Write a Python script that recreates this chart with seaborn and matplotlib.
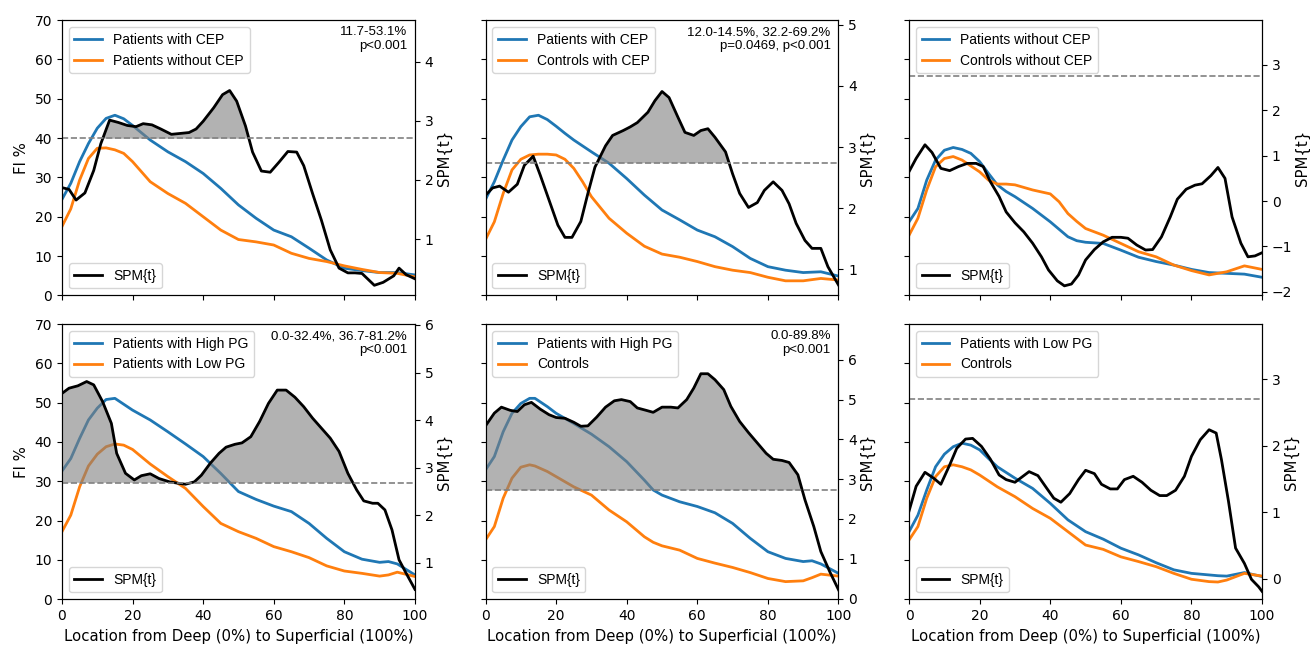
import numpy as np
import pandas as pd
import seaborn as sns
import matplotlib.pyplot as plt
from matplotlib.ticker import MultipleLocator

# ---- dados ----
# painel 1: pacientes com / sem CEP
p1_x = [0, 2.5, 5, 7.5, 10, 12.5, 15, 17.5, 20, 25, 30, 35, 40, 45, 50, 55, 60, 65, 70, 75, 80, 85, 90, 95, 100]
p1_a = [24.4, 28.5, 34, 38.6, 42.5, 45, 45.8, 44.9, 43.2, 39.5, 36.5, 34, 31, 27.2, 23, 19.6, 16.6, 14.9, 12, 9, 6.9, 6.3, 5.8, 5.8, 5.2]
p1_b = [17.5, 22, 29.3, 34.8, 37.4, 37.5, 37, 36.1, 34, 28.9, 25.9, 23.4, 20, 16.6, 14.2, 13.6, 12.8, 10.7, 9.4, 8.6, 7.5, 6.6, 5.8, 5.6, 4.7]
p1_tx = [0, 2, 4, 6.5, 9, 11, 13.5, 16, 18.5, 21, 23, 25.5, 28, 31, 36, 38, 40, 43, 45.5, 47.5, 49.5, 52, 54, 56.5,
         59, 61.5, 64, 66.5, 68.5, 71, 73.5, 76, 78.5, 81, 83, 85, 88.5, 91, 94, 95.5, 97.5, 100]
p1_t = [1.87, 1.84, 1.66, 1.78, 2.16, 2.61, 3.01, 2.97, 2.92, 2.90, 2.95, 2.93, 2.86, 2.77, 2.80, 2.86, 2.99, 3.22,
        3.44, 3.51, 3.33, 2.91, 2.47, 2.15, 2.13, 2.30, 2.48, 2.47, 2.24, 1.77, 1.32, 0.82, 0.51, 0.43, 0.43, 0.42,
        0.22, 0.27, 0.38, 0.51, 0.40, 0.33]

# painel 2: pacientes com CEP / controles com CEP
p2_x = [0, 2.5, 5, 7.5, 10, 12.5, 15, 17.5, 20, 22.5, 25, 27.5, 30, 35, 40, 45, 50, 55, 60, 65, 70, 75, 80, 85, 90, 95, 100]
p2_a = [24.4, 28.9, 34.4, 39.5, 42.9, 45.4, 45.8, 44.7, 43, 41.2, 39.5, 38, 36.5, 33.6, 29.7, 25.5, 21.7, 19.2, 16.6,
        14.9, 12.4, 9.4, 7.3, 6.4, 5.8, 6.0, 4.9]
p2_b = [14.2, 18.7, 25.9, 31.9, 34.6, 35.7, 35.9, 35.9, 35.7, 34.6, 32.3, 28.9, 25.1, 19.6, 15.8, 12.5, 10.5, 9.7, 8.6,
        7.3, 6.4, 5.8, 4.6, 3.7, 3.7, 4.3, 3.9]
p2_tx = [0, 2, 4, 6.5, 9, 11, 13.5, 15.5, 18, 20.5, 22.5, 24.5, 27, 29, 31, 34, 36, 39, 41, 43, 46, 48, 50, 52, 54.5,
         56.5, 59, 61, 63, 65, 68, 70, 72, 74.5, 77, 79, 81.5, 84, 86, 88, 90.5, 92.5, 95, 97, 100]
p2_t = [2.21, 2.33, 2.36, 2.26, 2.39, 2.70, 2.85, 2.54, 2.13, 1.72, 1.52, 1.52, 1.78, 2.24, 2.67, 3.02, 3.19, 3.27,
        3.33, 3.40, 3.57, 3.76, 3.91, 3.81, 3.49, 3.24, 3.19, 3.27, 3.30, 3.16, 2.92, 2.56, 2.24, 2.01, 2.09, 2.29,
        2.43, 2.29, 2.07, 1.75, 1.47, 1.34, 1.34, 1.04, 0.74]

# painel 3: pacientes sem CEP / controles sem CEP
p3_x = [0, 2.5, 5, 7.5, 10, 12.5, 15, 17.5, 20, 22.5, 25, 27.5, 30, 35, 40, 42.5, 45, 47.5, 50, 55, 60, 65, 70, 75, 80,
        85, 90, 95, 100]
p3_a = [18.7, 22.1, 29.3, 34.4, 36.9, 37.6, 37.1, 36.1, 34, 31, 28.1, 26.4, 25.1, 22.1, 18.7, 16.8, 14.9, 13.9, 13.5,
        13.2, 11.5, 9.7, 8.6, 7.7, 6.6, 5.8, 5.6, 5.4, 4.6]
p3_b = [15.3, 19.6, 26.8, 32.7, 34.8, 35.3, 34.4, 32.9, 31.4, 29.3, 28.3, 28.3, 28.1, 26.8, 25.8, 23.8, 20.8, 18.8,
        17, 15.3, 13.2, 11.1, 9.8, 7.7, 6.3, 5.2, 6.0, 7.5, 6.6]
p3_tx = [0, 2, 4.5, 6.5, 9, 11.5, 14, 16.5, 19, 21, 23, 25.5, 27.5, 30, 32.5, 35, 37.5, 39.5, 42, 44, 46, 48, 50, 52.5,
         55, 57.5, 60, 62, 64.5, 67, 69, 71.5, 74, 76, 78.5, 81, 83, 85.5, 87.5, 89.5, 91.5, 94, 96, 98, 100]
p3_t = [0.65, 0.94, 1.24, 1.07, 0.72, 0.67, 0.76, 0.83, 0.83, 0.76, 0.43, 0.10, -0.24, -0.48, -0.68, -0.93, -1.23,
        -1.52, -1.76, -1.87, -1.83, -1.63, -1.30, -1.07, -0.90, -0.80, -0.80, -0.82, -0.97, -1.08, -1.07, -0.79,
        -0.35, 0.04, 0.26, 0.35, 0.38, 0.56, 0.74, 0.50, -0.35, -0.93, -1.23, -1.21, -1.14]

# painel 4: pacientes com PG alto / baixo
p4_x = [0, 2.5, 5, 7.5, 10, 12.5, 15, 17.5, 20, 25, 30, 35, 40, 45, 50, 55, 60, 65, 70, 75, 80, 85, 90, 92.5, 95, 100]
p4_a = [32.6, 35.8, 40.9, 45.6, 48.6, 50.8, 51.1, 49.6, 48.1, 45.6, 42.6, 39.5, 36.3, 32.0, 27.4, 25.4, 23.7, 22.3,
        19.3, 15.5, 12.1, 10.2, 9.4, 9.6, 9.0, 6.2]
p4_b = [17.2, 21.4, 28.6, 33.9, 36.9, 38.8, 39.5, 39.2, 38.1, 34.4, 31.2, 28.2, 23.6, 19.3, 17.2, 15.5, 13.4, 12.1,
        10.6, 8.5, 7.2, 6.6, 5.9, 6.2, 6.9, 5.8]
p4_tx = [0, 2, 4.5, 7, 9, 11.5, 14, 15.5, 18, 20.5, 22.5, 25, 27.5, 30.5, 33, 35, 37.5, 39.5, 42, 44.5, 46.5, 49, 51,
         53.5, 56, 58.5, 61, 63.5, 66, 68.5, 71, 73.5, 76, 78.5, 81, 83.5, 85.5, 88, 89.5, 91.5, 93.5, 95.5, 97.5, 100]
p4_t = [4.56, 4.67, 4.72, 4.81, 4.74, 4.39, 3.93, 3.30, 2.88, 2.74, 2.83, 2.87, 2.77, 2.70, 2.67, 2.65, 2.70, 2.84,
        3.09, 3.30, 3.43, 3.49, 3.52, 3.65, 3.97, 4.35, 4.63, 4.63, 4.48, 4.28, 4.04, 3.83, 3.62, 3.34, 2.88, 2.53,
        2.30, 2.25, 2.25, 2.11, 1.69, 1.06, 0.78, 0.44]

# painel 5: pacientes com PG alto / controles
p5_x = [0, 2.5, 5, 7.5, 10, 12.5, 14, 17.5, 20, 25, 30, 35, 40, 45, 47.5, 50, 55, 60, 65, 70, 75, 80, 85, 90, 92.5,
        95, 100]
p5_a = [32.9, 36.3, 42.6, 47.3, 49.8, 51.1, 51.1, 49, 47.3, 44.7, 42, 38.8, 35, 30.3, 27.8, 26.5, 24.8, 23.6, 22,
        19.3, 15.5, 12.1, 10.4, 9.6, 9.8, 9, 6.6]
p5_b = [15.1, 18.5, 25.7, 30.8, 33.6, 34.2, 33.9, 32.5, 31.2, 28.6, 26.5, 22.7, 19.7, 15.9, 14.5, 13.6, 12.5, 10.4,
        9.2, 8.1, 6.8, 5.3, 4.5, 4.7, 5.5, 6.4, 5.9]
p5_tx = [0, 2.5, 4.5, 7, 9, 11, 13, 15.5, 18, 20, 22.5, 25, 27, 29, 31.5, 34, 36.5, 38.5, 41, 43, 45.5, 47.5, 50,
         52.5, 54.5, 57, 59, 61, 63, 65, 67.5, 69.5, 72, 74.5, 77, 79.5, 81.5, 84, 86, 88.5, 90.5, 93, 95, 97.5, 100]
p5_t = [4.34, 4.66, 4.81, 4.73, 4.70, 4.87, 4.93, 4.76, 4.62, 4.55, 4.53, 4.43, 4.33, 4.34, 4.56, 4.81, 4.97, 5.00,
        4.95, 4.79, 4.73, 4.68, 4.81, 4.81, 4.79, 5.00, 5.29, 5.65, 5.65, 5.50, 5.25, 4.83, 4.45, 4.17, 3.91, 3.65,
        3.50, 3.47, 3.42, 3.11, 2.48, 1.81, 1.18, 0.68, 0.22]

# painel 6: pacientes com PG baixo / controles
p6_x = [0, 2.5, 5, 7.5, 10, 12.5, 15, 17.5, 20, 22.5, 25, 30, 35, 40, 45, 50, 55, 60, 65, 70, 75, 80, 85, 87.5, 90,
        95, 100]
p6_a = [17.2, 21.4, 27.8, 33.7, 36.9, 38.8, 39.7, 39.2, 38, 35.8, 33.7, 30.8, 28.2, 24.4, 20.2, 17.2, 15.3, 13, 11.3,
        9.3, 7.5, 6.6, 6.2, 6.0, 5.9, 6.8, 5.8]
p6_b = [15.1, 18.5, 25.7, 31.2, 33.7, 34.2, 33.7, 32.9, 31.6, 30.1, 28.6, 26.1, 23.1, 20.6, 17.2, 13.8, 12.7, 10.8,
        9.6, 8.3, 6.6, 5.1, 4.5, 4.4, 4.9, 6.6, 5.9]
p6_tx = [0, 2, 4.5, 7, 9, 11.5, 13.5, 16, 18, 20.5, 23, 25.5, 27.5, 30, 32, 34, 36.5, 39, 41, 43, 45.5, 48, 50, 52.5,
         54.5, 57, 59, 61, 63.5, 66, 68.5, 71, 73, 75.5, 78, 80, 82.5, 85, 87, 88.5, 90.5, 92.5, 95, 97, 99, 100]
p6_t = [1.02, 1.39, 1.60, 1.51, 1.42, 1.71, 1.96, 2.10, 2.11, 1.99, 1.80, 1.56, 1.49, 1.45, 1.53, 1.61, 1.55, 1.36,
        1.21, 1.15, 1.28, 1.49, 1.63, 1.58, 1.42, 1.35, 1.35, 1.49, 1.54, 1.45, 1.33, 1.25, 1.25, 1.33, 1.54, 1.84,
        2.09, 2.24, 2.19, 1.79, 1.16, 0.46, 0.23, -0.01, -0.12, -0.19]

labels_a = ["Patients with CEP", "Patients with CEP", "Patients without CEP",
            "Patients with High PG", "Patients with High PG", "Patients with Low PG"]
labels_b = ["Patients without CEP", "Controls with CEP", "Controls without CEP",
            "Patients with Low PG", "Controls", "Controls"]
thresholds = [2.705, 2.735, 2.76, 2.68, 2.73, 2.70]
notes = ["11.7-53.1%\np<0.001", "12.0-14.5%, 32.2-69.2%\np=0.0469, p<0.001", "",
         "0.0-32.4%, 36.7-81.2%\np<0.001", "0.0-89.8%\np<0.001", ""]
spm_lims = [(0.05, 4.7), (0.57, 5.08), (-2.08, 3.99), (0.23, 6.02), (-0.02, 6.9), (-0.31, 3.83)]

xs = [p1_x, p2_x, p3_x, p4_x, p5_x, p6_x]
ya = [p1_a, p2_a, p3_a, p4_a, p5_a, p6_a]
yb = [p1_b, p2_b, p3_b, p4_b, p5_b, p6_b]
txs = [p1_tx, p2_tx, p3_tx, p4_tx, p5_tx, p6_tx]
ts = [p1_t, p2_t, p3_t, p4_t, p5_t, p6_t]

# ---- figura ----
plt.rcParams['font.family'] = 'DejaVu Sans'
plt.rcParams['font.size'] = 10
leg_font = {'family': 'Liberation Sans', 'size': 10}
lab_size = 10.7

fig, axes = plt.subplots(2, 3, figsize=(13.1, 6.47), dpi=100, sharex=True, sharey=True)
fig.subplots_adjust(left=0.0473, right=0.9634, top=0.969, bottom=0.0737, wspace=0.2, hspace=0.104)

for i, ax in enumerate(axes.flat):
    df_a = pd.DataFrame({'x': xs[i], 'y': ya[i]})
    df_b = pd.DataFrame({'x': xs[i], 'y': yb[i]})
    df_t = pd.DataFrame({'x': txs[i], 't': ts[i]})

    sns.lineplot(data=df_a, x='x', y='y', ax=ax, color='#1f77b4', lw=2, legend=False)
    sns.lineplot(data=df_b, x='x', y='y', ax=ax, color='#ff7f0e', lw=2, legend=False)
    ax.set_xlim(0, 100)
    ax.set_ylim(0, 70)
    ax.set_xticks([0, 20, 40, 60, 80, 100])
    ax.set_yticks(range(0, 71, 10))
    ax.set_ylabel("FI %", fontsize=lab_size)
    ax.set_xlabel("Location from Deep (0%) to Superficial (100%)" if i >= 3 else "", fontsize=lab_size)

    ax2 = ax.twinx()
    sns.lineplot(data=df_t, x='x', y='t', ax=ax2, color='black', lw=2, legend=False)
    thr = thresholds[i]
    ax2.axhline(thr, color='gray', ls='--', lw=1.2)
    t_arr = np.array(ts[i])
    ax2.fill_between(txs[i], thr, t_arr, where=t_arr > thr, interpolate=True,
                     color='gray', alpha=0.6, lw=0)
    ax2.set_ylim(*spm_lims[i])
    ax2.yaxis.set_major_locator(MultipleLocator(1))
    ax2.set_ylabel("SPM{t}", fontsize=lab_size, labelpad=2)
    ax2.set_xlim(0, 100)

    h = ax.get_lines()[:2]
    leg1 = ax2.legend(h, [labels_a[i], labels_b[i]], loc='upper left', prop=leg_font)
    ax2.add_artist(leg1)
    ax2.legend(ax2.get_lines()[:1], ["SPM{t}"], loc='lower left', prop=leg_font)

    if notes[i]:
        ax2.text(0.978, 0.978, notes[i], transform=ax2.transAxes, ha='right', va='top',
                 fontsize=9.5, family='Liberation Sans')

plt.savefig("out.png", dpi=100)
